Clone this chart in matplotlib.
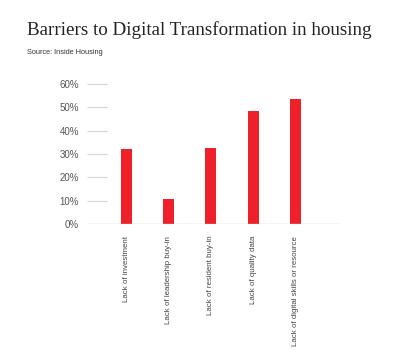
import matplotlib.pyplot as plt

categories = [
    "Lack of investment",
    "Lack of leadership buy-in",
    "Lack of resident buy-in",
    "Lack of quality data",
    "Lack of digital skills or resource",
]
values = [0.32, 0.106, 0.327, 0.486, 0.534]
yticks = [0, 0.1, 0.2, 0.3, 0.4, 0.5, 0.6]
ytick_labels = ["0%", "10%", "20%", "30%", "40%", "50%", "60%"]

red = "#ee2029"
grid_col = "#d8d8d8"
text_col = "#555555"

fig = plt.figure(figsize=(4, 3.61), dpi=100)
ax = fig.add_axes([0.2175, 0.3795, 0.635, 0.388])

x = range(len(categories))
ax.bar(x, values, width=0.26, color=red, zorder=3)

ax.set_xlim(-0.935, 5.08)
ax.set_ylim(0, 0.6)

# short grid stubs next to the y labels only
ax.hlines(yticks[1:], -0.935, -0.46, color=grid_col, lw=0.9, clip_on=False)
ax.axhline(0, color="#cccccc", lw=1.0, zorder=4)

ax.set_yticks(yticks)
ax.set_yticklabels(ytick_labels, family="Liberation Sans")
ax.set_xticks(list(x))
ax.set_xticklabels(categories, rotation=90, va="top", ha="center", family="Liberation Sans")
ax.tick_params(axis="y", length=0, pad=5.8, labelsize=7, labelcolor=text_col)
ax.tick_params(axis="x", length=0, pad=8.5, labelsize=5.7, labelcolor="#444444")

for s in ax.spines.values():
    s.set_visible(False)

fig.text(27 / 400, 1 - 30 / 361, "Barriers to Digital Transformation in housing",
         family="Liberation Serif", fontsize=13.7, color="#222222", va="center", ha="left")
fig.text(27 / 400, 1 - 53 / 361, "Source: Inside Housing",
         family="Liberation Sans", fontsize=5.3, color="#333333", va="center", ha="left")

fig.savefig("out.png", dpi=100, facecolor="white")
